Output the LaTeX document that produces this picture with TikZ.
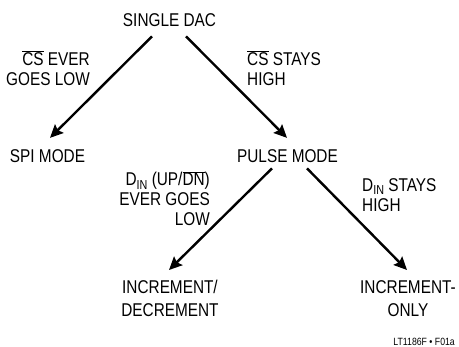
\documentclass[tikz,border=0pt]{standalone}
\usepackage{fontspec}
\setmainfont{Liberation Sans}[FakeStretch=0.83]
\usetikzlibrary{arrows.meta}
\newcommand{\ovbar}[1]{$\overline{\mbox{#1}}$}
\newcommand{\subin}{\raisebox{-3.5pt}{\fontsize{13}{13}\selectfont IN}}
\tikzset{
  lbl/.style={inner sep=0pt, font=\fontsize{18.5}{20}\selectfont},
  arr/.style={line width=2.4pt, -{Stealth[length=13pt,width=12pt,inset=2pt]}}
}
\begin{document}
\begin{tikzpicture}[x=1pt,y=-1pt]
\useasboundingbox (0,0) rectangle (459,347);
\node[lbl, anchor=base] (dac) at (169.5,27) {SINGLE DAC};
\node[lbl, anchor=north east, align=right] (lcs) at (90,50) {\ovbar{CS} EVER\\GOES LOW};
\node[lbl, anchor=north west, align=left] (rcs) at (247,50) {\ovbar{CS} STAYS\\HIGH};
\node[lbl, anchor=base] (spi) at (47.5,163) {SPI MODE};
\node[lbl, anchor=base] (pulse) at (287.5,163) {PULSE MODE};
\node[lbl, anchor=north east, align=right] (ldin) at (210,171) {D\subin{} (UP/\ovbar{DN})\\EVER GOES\\LOW};
\node[lbl, anchor=north west, align=left] (rdin) at (362,178) {D\subin{} STAYS\\HIGH};
\node[lbl, anchor=north, align=center, font=\fontsize{18.5}{23}\selectfont] (inc) at (170,280) {INCREMENT/\\DECREMENT};
\node[lbl, anchor=north, align=center, font=\fontsize{18.5}{23}\selectfont] (only) at (408,280) {INCREMENT-\\ONLY};
\node[inner sep=0pt, anchor=base east, font=\fontsize{10.5}{12}\selectfont] (fig) at (455,346) {LT1186F • F01a};
\draw[arr] ([xshift=-17.5pt,yshift=-9pt]dac.south) -- ([xshift=2.5pt,yshift=12pt]spi.north);
\draw[arr] ([xshift=16.5pt,yshift=-9pt]dac.south) -- ([xshift=-0.5pt,yshift=12pt]pulse.north);
\draw[arr] ([xshift=-15.5pt,yshift=-5pt]pulse.south) -- ([xshift=-1pt,yshift=10pt]inc.north);
\draw[arr] ([xshift=19.5pt,yshift=-5pt]pulse.south) -- ([xshift=-1pt,yshift=10pt]only.north);
\end{tikzpicture}
\end{document}
